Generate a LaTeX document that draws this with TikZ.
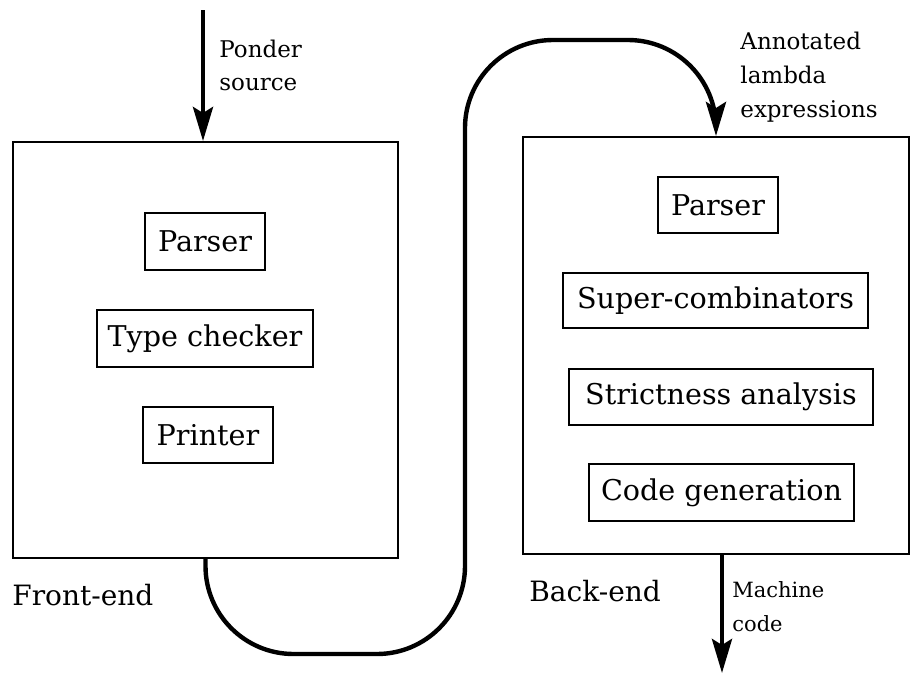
\documentclass[tikz,border=0pt]{standalone}
\usepackage{fontspec}
\setmainfont{DejaVu Serif}
\usetikzlibrary{arrows.meta}

\begin{document}
\begin{tikzpicture}[
    x=0.5pt, y=-0.5pt,
    stage/.style={draw, line width=1pt, inner sep=0pt},
    pass/.style={draw, line width=1pt, inner sep=0pt,
      font=\fontsize{14.3}{17}\selectfont},
    flow/.style={line width=2.2pt,
      -{Stealth[length=17pt, width=10pt, inset=3pt]}},
    note/.style={inner sep=0pt, align=left, anchor=base west},
    small/.style={note, font=\fontsize{11.5}{17}\selectfont},
    caption/.style={note, font=\fontsize{14}{17}\selectfont},
  ]
  \useasboundingbox (0,0) rectangle (912,675);

  % the two stages
  \node[stage, minimum width=192.5pt, minimum height=208pt] (lbox) at (205.5,350) {};
  \node[stage, minimum width=193pt, minimum height=208.5pt] (rbox) at (716,345.5) {};

  % front-end passes
  \node[pass, minimum width=60pt, minimum height=28.5pt]  (fparse) at (205,241.5) {Parser};
  \node[pass, minimum width=108pt, minimum height=28.5pt] (ftype)  at (205,338.5) {Type checker};
  \node[pass, minimum width=65pt, minimum height=28pt]    (fprint) at (208,435)   {Printer};

  % back-end passes
  \node[pass, minimum width=60pt, minimum height=28pt]     (bparse)  at (718,205)   {Parser};
  \node[pass, minimum width=152.5pt, minimum height=27.5pt] (bcomb)  at (715.5,300.5) {Super-combinators};
  \node[pass, minimum width=152pt, minimum height=28pt]    (bstrict) at (721,397)   {Strictness analysis};
  \node[pass, minimum width=132.5pt, minimum height=28.5pt] (bcode)  at (721.5,492.5) {Code generation};

  % captions
  \node[caption] (fcap) at (12,605) {Front-end};
  \node[caption] (bcap) at (529,601) {Back-end};

  % input, hand-over and output
  \coordinate (src) at (203,10);
  \coordinate (mcend) at (722,673);
  \draw[flow] (src) -- (src |- lbox.north);
  \draw[flow, rounded corners=44pt]
    (lbox.south) -- ++(0,95) -| (465,40) -| (rbox.north);
  \draw[flow] (rbox.south -| mcend) -- (mcend);

  % arrow labels (anchored on the baseline of their last line)
  \node[note, font=\fontsize{11.5}{16.5}\selectfont] (srclbl) at (219,90) {Ponder\\source};
  \node[small] (lamlbl) at (740,117) {Annotated\\lambda\\expressions};
  \node[note, font=\fontsize{10.5}{17}\selectfont] (mclbl) at (732,631) {Machine\\code};
\end{tikzpicture}
\end{document}
